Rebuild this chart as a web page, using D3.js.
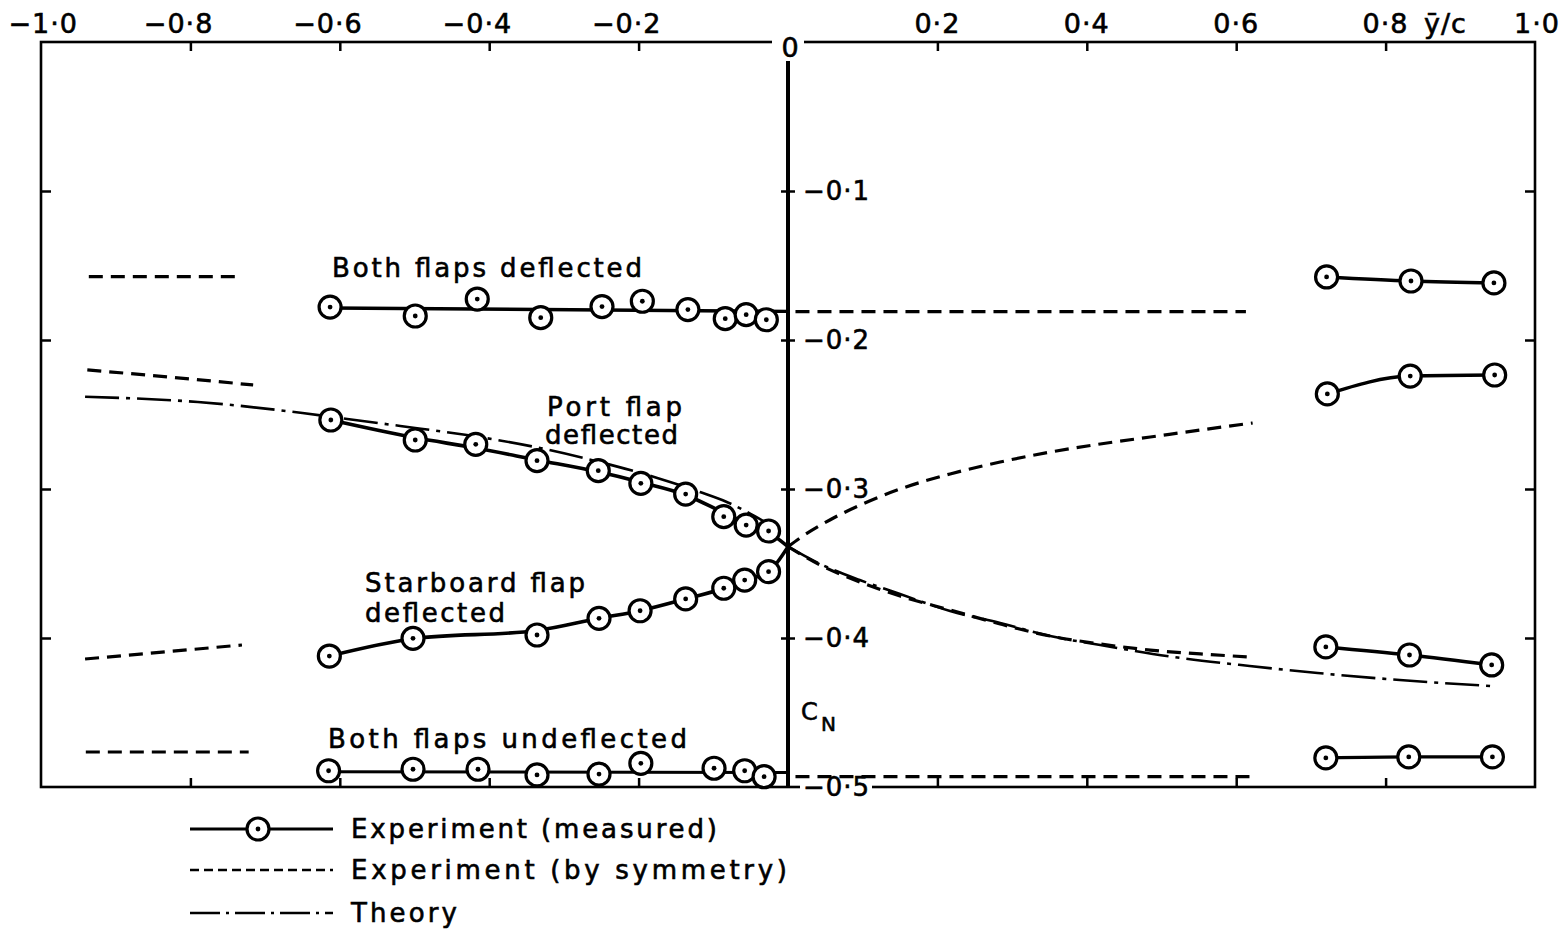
<!DOCTYPE html>
<html>
<head>
<meta charset="utf-8">
<script src="https://cdn.jsdelivr.net/npm/d3@7"></script>
<style>
  body { margin: 0; background: #fff; }
  svg { display: block; }
  text { font-family: "DejaVu Sans", sans-serif; fill: #000; stroke: #000; stroke-width: 0.6px; }
</style>
</head>
<body>
<div id="plot"></div>
<script>
// ---- data (x = y/c spanwise, cn = normal force coeff) ----
var xTickVals = [-1, -0.8, -0.6, -0.4, -0.2, 0.2, 0.4, 0.6, 0.8, 1];
var yTickVals = [-0.1, -0.2, -0.3, -0.4, -0.5];

// both flaps deflected
var bothDefX  = [-0.613, -0.499, -0.416, -0.331, -0.249, -0.195, -0.134, -0.084, -0.056, -0.029, 0.721, 0.834, 0.945];
var bothDefCN = [-0.1779, -0.1839, -0.1725, -0.1850, -0.1776, -0.1740, -0.1796, -0.1857, -0.1830, -0.1864, -0.1577, -0.1604, -0.1617];
var bothDefFairX  = [-0.613, 0];
var bothDefFairCN = [-0.1785, -0.1808];
var bothDefSymLX = [-0.936, -0.731], bothDefSymLCN = [-0.1575, -0.1575];
var bothDefSymRX = [0.01, 0.613],   bothDefSymRCN = [-0.1809, -0.1809];

// port flap deflected
var portX  = [-0.612, -0.499, -0.418, -0.336, -0.254, -0.197, -0.137, -0.086, -0.056, -0.026, 0.722, 0.833, 0.946];
var portCN = [-0.2537, -0.2671, -0.2700, -0.2810, -0.2877, -0.2962, -0.3034, -0.3186, -0.3242, -0.3282, -0.2362, -0.2242, -0.2235];
var portFairX  = [-0.612, -0.5, -0.418, -0.336, -0.254, -0.197, -0.137, -0.086, -0.056, -0.026, 0];
var portFairCN = [-0.2537, -0.2655, -0.2725, -0.2805, -0.2885, -0.2955, -0.3040, -0.3160, -0.3230, -0.3290, -0.3387];
var portSymLX  = [-0.938, -0.83, -0.716];
var portSymLCN = [-0.2201, -0.2248, -0.2302];
var portSymRX  = [0, 0.016, 0.056, 0.103, 0.150, 0.217, 0.284, 0.351, 0.418, 0.485, 0.552, 0.622];
var portSymRCN = [-0.3387, -0.3329, -0.3208, -0.3094, -0.3000, -0.2899, -0.2819, -0.2752, -0.2698, -0.2651, -0.2604, -0.2557];

// starboard flap deflected
var starX  = [-0.614, -0.502, -0.336, -0.253, -0.198, -0.137, -0.086, -0.058, -0.026, 0.72, 0.832, 0.942];
var starCN = [-0.4121, -0.4002, -0.3980, -0.3868, -0.3817, -0.3738, -0.3666, -0.3611, -0.3555, -0.4060, -0.4114, -0.4181];
var starFairX  = [-0.614, -0.502, -0.336, -0.253, -0.198, -0.137, -0.086, -0.058, -0.026, 0];
var starFairCN = [-0.4121, -0.4005, -0.3950, -0.3868, -0.3817, -0.3738, -0.3666, -0.3611, -0.3555, -0.3387];
var starSymLX  = [-0.941, -0.731];
var starSymLCN = [-0.4141, -0.4047];
var starSymRX  = [0, 0.043, 0.096, 0.150, 0.217, 0.284, 0.351, 0.418, 0.485, 0.552, 0.620];
var starSymRCN = [-0.3387, -0.3510, -0.3624, -0.3718, -0.3812, -0.3906, -0.3987, -0.4040, -0.4081, -0.4107, -0.4128];

// both flaps undeflected
var undefX  = [-0.615, -0.502, -0.415, -0.336, -0.253, -0.197, -0.099, -0.058, -0.032, 0.72, 0.831, 0.943];
var undefCN = [-0.4891, -0.4881, -0.4881, -0.4919, -0.4913, -0.4841, -0.4874, -0.4891, -0.4931, -0.4805, -0.4798, -0.4798];
var undefFairX  = [-0.615, 0];
var undefFairCN = [-0.4897, -0.4903];
var undefSymLX = [-0.940, -0.722], undefSymLCN = [-0.4765, -0.4765];
var undefSymRX = [0.01, 0.618],   undefSymRCN = [-0.4930, -0.4930];

// theory
var theoryLX  = [-0.941, -0.79, -0.65, -0.59, -0.519, -0.43, -0.332, -0.252, -0.175, -0.118, -0.082, -0.031];
var theoryLCN = [-0.2381, -0.2416, -0.2490, -0.2530, -0.2577, -0.2638, -0.2725, -0.2819, -0.2926, -0.3020, -0.3087, -0.3221];
var theoryRX  = [0, 0.043, 0.096, 0.150, 0.217, 0.284, 0.351, 0.418, 0.517, 0.618, 0.709, 0.819, 0.940];
var theoryRCN = [-0.3387, -0.3503, -0.3611, -0.3705, -0.3819, -0.3899, -0.3987, -0.4047, -0.4128, -0.4188, -0.4235, -0.4282, -0.4322];

var legendNames = ['Experiment (measured)', 'Experiment (by symmetry)', 'Theory'];

// ---- drawing ----
var W = 1566, H = 931;
var svg = d3.select('#plot').append('svg').attr('width', W).attr('height', H);

var x = d3.scaleLinear().domain([-1, 1]).range([41, 1535]);
var y = d3.scaleLinear().domain([0, -0.5]).range([42, 787]);

var dashStyle = '14,8', theoryStyle = '34,7,4,7';

var line = d3.line().x(function(d){ return x(d[0]); }).y(function(d){ return y(d[1]); })
	.curve(d3.curveMonotoneX);

function drawLine(xs, ys, dash, w){
	svg.append('path')
		.datum(d3.zip(xs, ys))
		.attr('d', line)
		.attr('fill', 'none')
		.attr('stroke', '#000')
		.attr('stroke-width', w)
		.attr('stroke-linecap', 'butt')
		.attr('stroke-dasharray', dash || null);
}

// frame ticks (inward)
var inner = xTickVals.filter(function(v){ return Math.abs(v) < 1; });
svg.append('g').attr('transform', 'translate(0,' + y(0) + ')')
	.call(d3.axisTop(x).tickValues(inner).tickSizeInner(-9).tickSizeOuter(0).tickFormat(''));
svg.append('g').attr('transform', 'translate(0,' + y(-0.5) + ')')
	.call(d3.axisBottom(x).tickValues(inner).tickSizeInner(-9).tickSizeOuter(0).tickFormat(''));
svg.append('g').attr('transform', 'translate(' + x(-1) + ',0)')
	.call(d3.axisLeft(y).tickValues(yTickVals.slice(0, 4)).tickSizeInner(-10).tickSizeOuter(0).tickFormat(''));
svg.append('g').attr('transform', 'translate(' + x(1) + ',0)')
	.call(d3.axisRight(y).tickValues(yTickVals.slice(0, 4)).tickSizeInner(-10).tickSizeOuter(0).tickFormat(''));
svg.selectAll('.domain').remove();
svg.selectAll('.tick line').attr('stroke', '#000').attr('stroke-width', 2.5);

// frame
svg.append('rect')
	.attr('x', x(-1)).attr('y', y(0))
	.attr('width', x(1) - x(-1)).attr('height', y(-0.5) - y(0))
	.attr('fill', 'none').attr('stroke', '#000').attr('stroke-width', 2.6);

// centre axis with crossing ticks
svg.append('line')
	.attr('x1', x(0)).attr('x2', x(0)).attr('y1', 61).attr('y2', y(-0.5))
	.attr('stroke', '#000').attr('stroke-width', 4);
var cAxis = svg.append('g').attr('transform', 'translate(' + (x(0) + 7) + ',0)')
	.call(d3.axisLeft(y).tickValues(yTickVals.slice(0, 4)).tickSizeInner(14).tickSizeOuter(0).tickFormat(''));
cAxis.select('.domain').remove();
cAxis.selectAll('.tick line').attr('stroke', '#000').attr('stroke-width', 2.5);

function fmt(v){ return d3.format('.1f')(Math.abs(v)).replace('.', '\u00b7'); }

// top x labels: digits centred on tick, minus hanging to the left
xTickVals.forEach(function(v){
	var cx = x(v) + (v === -1 ? 14 : v === 1 ? 2 : 0);
	var t = svg.append('text')
		.attr('x', cx).attr('y', 33)
		.attr('text-anchor', 'middle')
		.attr('font-size', 27)
		.attr('letter-spacing', 1)
		.text(fmt(v));
	if (v < 0) {
		var w = t.node().getComputedTextLength();
		svg.append('text')
			.attr('x', cx - w / 2 - 1).attr('y', 33)
			.attr('text-anchor', 'end')
			.attr('font-size', 27)
			.text('\u2212');
	}
});
svg.append('text').attr('x', 1424).attr('y', 33).attr('font-size', 27).attr('letter-spacing', 1).text('\u0233/c');

// "0" at top of centre axis
svg.append('rect').attr('x', x(0) - 16).attr('y', 30).attr('width', 32).attr('height', 28).attr('fill', '#fff');
svg.append('text').attr('x', x(0) + 2).attr('y', 57).attr('text-anchor', 'middle').attr('font-size', 27).text('0');

// y labels beside centre axis
svg.append('rect').attr('x', 800).attr('y', y(-0.5) - 13).attr('width', 72).attr('height', 26).attr('fill', '#fff');
yTickVals.forEach(function(v){
	svg.append('text')
		.attr('x', 803).attr('y', y(v)).attr('dy', '0.36em')
		.attr('font-size', 26)
		.attr('letter-spacing', 1)
		.text('\u2212' + fmt(v));
});
svg.append('text').attr('x', 801).attr('y', 720).attr('font-size', 24).text('C');
svg.append('text').attr('x', 821).attr('y', 731).attr('font-size', 20).text('N');

// symmetry (dashed) lines
drawLine(bothDefSymLX, bothDefSymLCN, dashStyle, 3.2);
drawLine(bothDefSymRX, bothDefSymRCN, dashStyle, 3.2);
drawLine(portSymLX, portSymLCN, dashStyle, 3.2);
drawLine(portSymRX, portSymRCN, dashStyle, 3.2);
drawLine(starSymLX, starSymLCN, dashStyle, 3.2);
drawLine(starSymRX, starSymRCN, dashStyle, 3.2);
drawLine(undefSymLX, undefSymLCN, dashStyle, 3.2);
drawLine(undefSymRX, undefSymRCN, dashStyle, 3.2);

// theory
drawLine(theoryLX, theoryLCN, theoryStyle, 2.6);
drawLine(theoryRX, theoryRCN, theoryStyle, 2.6);

// measured fairings
drawLine(bothDefFairX, bothDefFairCN, null, 3.4);
drawLine(portFairX, portFairCN, null, 3.6);
drawLine(starFairX, starFairCN, null, 3.6);
drawLine(undefFairX, undefFairCN, null, 3);

var measured = [[bothDefX, bothDefCN], [portX, portCN], [starX, starCN], [undefX, undefCN]];
measured.forEach(function(s){
	var right = d3.zip(s[0], s[1]).filter(function(d){ return d[0] > 0; });
	drawLine(right.map(function(d){ return d[0]; }), right.map(function(d){ return d[1]; }), null, 3.4);
});

function marker(cx, cy){
	svg.append('circle').attr('cx', cx).attr('cy', cy).attr('r', 11)
		.attr('fill', '#fff').attr('stroke', '#000').attr('stroke-width', 3.2);
	svg.append('circle').attr('cx', cx).attr('cy', cy).attr('r', 2.4).attr('fill', '#000');
}
measured.forEach(function(s){
	d3.zip(s[0], s[1]).forEach(function(d){ marker(x(d[0]), y(d[1])); });
});

// annotations
function label(txt, lx, ly, len){
	svg.append('text').attr('x', lx).attr('y', ly)
		.attr('font-size', 26)
		.attr('textLength', len).attr('lengthAdjust', 'spacing')
		.text(txt);
}
label('Both flaps deflected', 332, 277, 310);
label('Port flap', 547, 416, 135);
label('deflected', 545, 444, 133);
label('Starboard flap', 365, 592, 220);
label('deflected', 365, 622, 140);
label('Both flaps undeflected', 328, 748, 359);

// legend
var legY = [829, 870, 913];
var legLen = [366, 436, 106];
drawLegend();
function drawLegend(){
	var styles = [null, '9,5', '30,6,3,6'];
	legY.forEach(function(ly, i){
		svg.append('line').attr('x1', 190).attr('x2', 333).attr('y1', ly).attr('y2', ly)
			.attr('stroke', '#000').attr('stroke-width', i === 0 ? 3 : 2.6)
			.attr('stroke-dasharray', styles[i]);
		label(legendNames[i], 351, ly + 9, legLen[i]);
	});
	marker(258, legY[0]);
}
</script>
</body>
</html>
